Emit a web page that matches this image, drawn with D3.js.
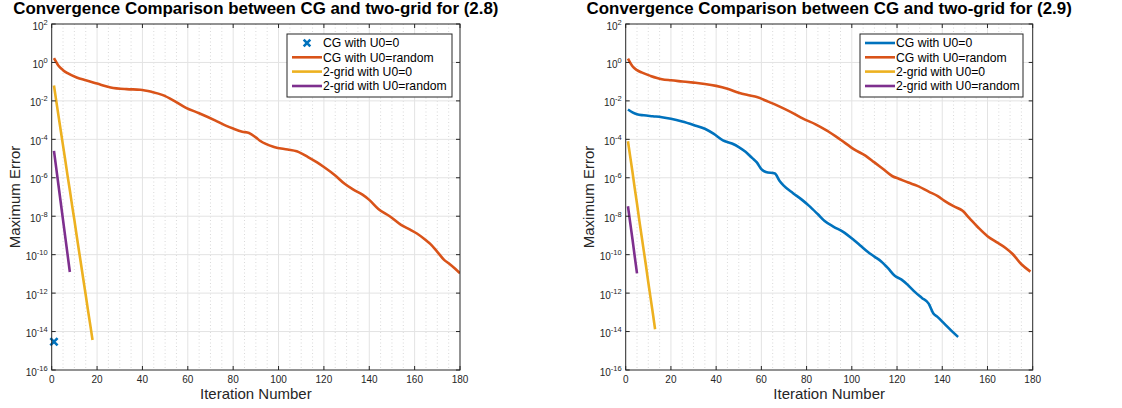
<!DOCTYPE html>
<html><head><meta charset="utf-8">
<script src="https://cdn.jsdelivr.net/npm/d3@7/dist/d3.min.js"></script>
<style>
body{margin:0;background:#fff;}
svg{display:block;font-family:"Liberation Sans",Arial,Helvetica,sans-serif;}
</style>
</head><body>
<svg id="chart" width="1122" height="408"></svg>
<script>
// ---------- tick labels / text ----------
const xTickValues = [0, 20, 40, 60, 80, 100, 120, 140, 160, 180];
const yTickExponents = [2, 0, -2, -4, -6, -8, -10, -12, -14, -16];
const legendLabels = ["CG with U0=0", "CG with U0=random", "2-grid with U0=0", "2-grid with U0=random"];
const panelTitles = ["Convergence Comparison between CG and two-grid for (2.8)",
                     "Convergence Comparison between CG and two-grid for (2.9)"];
const xLabel = "Iteration Number";
const yLabel = "Maximum Error";

// ---------- data (base-10 exponent of the maximum error) ----------
// Panel (2.8)
const cgZeroIter28 = [1];
const cgZeroExp28  = [-14.53];
const cgRandIter28 = [1,3,5,7,11,15,20,26,33,39,44,49,54,59,65,72,77,80,84,87,90,92,98,104,108,113,117,120,125,129,133,137,140,144,149,154,158,161,165,167,170,173,175,178,180];
const cgRandExp28  = [0.22,-0.17,-0.40,-0.56,-0.78,-0.93,-1.10,-1.30,-1.39,-1.42,-1.53,-1.70,-2.00,-2.35,-2.64,-3.01,-3.30,-3.44,-3.60,-3.67,-3.90,-4.09,-4.40,-4.53,-4.62,-4.92,-5.20,-5.44,-5.88,-6.30,-6.62,-6.88,-7.15,-7.62,-8.00,-8.45,-8.70,-8.90,-9.25,-9.45,-9.85,-10.27,-10.45,-10.75,-10.97];
const tgZeroIter28 = [1,2,3,4,5,6,7,8,9,10,11,12,13,14,15,16,17,18];
const tgZeroExp28  = [-1.2,-2.0,-2.78,-3.55,-4.33,-5.1,-5.9,-6.65,-7.45,-8.2,-9.0,-9.78,-10.55,-11.33,-12.1,-12.9,-13.65,-14.44];
const tgRandIter28 = [1,2,3,4,5,6,7,8];
const tgRandExp28  = [-4.6,-5.5,-6.4,-7.3,-8.2,-9.1,-10.0,-10.9];

// Panel (2.9)
const cgZeroIter29 = [1,3,5,8,12,16,20,25,30,35,39,43,47,50,53,56,58,60,62,66,68,70,74,78,81,85,88,92,96,101,104,107,110,113,116,119,122,125,128,131,134,136,138,141,144,147];
const cgZeroExp29  = [-2.45,-2.60,-2.70,-2.75,-2.80,-2.85,-2.93,-3.07,-3.25,-3.45,-3.72,-4.05,-4.22,-4.40,-4.65,-4.98,-5.20,-5.55,-5.70,-5.78,-6.15,-6.42,-6.80,-7.15,-7.45,-7.90,-8.25,-8.55,-8.80,-9.25,-9.55,-9.85,-10.10,-10.35,-10.70,-11.10,-11.30,-11.60,-11.95,-12.25,-12.55,-13.05,-13.25,-13.60,-13.95,-14.28];
const cgRandIter29 = [1,3,5,7,11,16,20,25,30,35,40,45,50,55,58,63,70,75,78,84,89,95,101,106,110,114,118,121,125,129,134,138,141,145,149,152,156,160,164,168,171,175,179];
const cgRandExp29  = [0.20,-0.20,-0.40,-0.52,-0.70,-0.87,-0.93,-0.99,-1.05,-1.12,-1.22,-1.37,-1.58,-1.72,-1.80,-2.04,-2.40,-2.70,-2.90,-3.22,-3.55,-4.02,-4.52,-4.85,-5.20,-5.56,-5.92,-6.06,-6.25,-6.42,-6.72,-6.95,-7.20,-7.48,-7.72,-8.10,-8.60,-9.04,-9.35,-9.65,-9.95,-10.50,-10.88];
const tgZeroIter29 = [1,2,3,4,5,6,7,8,9,10,11,12,13];
const tgZeroExp29  = [-4.1,-4.9,-5.7,-6.55,-7.35,-8.2,-9.0,-9.8,-10.6,-11.45,-12.25,-13.05,-13.88];
const tgRandIter29 = [1,2,3,4,5];
const tgRandExp29  = [-7.48,-8.35,-9.2,-10.1,-10.97];

// ---------- styling ----------
const colors = {blue:"#0072BD", orange:"#D95319", yellow:"#EDB120", purple:"#7E2F8E"};
const axisColor = "#262626";
const svg = d3.select("#chart");
const plotTop = 24, plotBottom = 370;

const panels = [
  {x0:51.7, x1:460, title:panelTitles[0], legendX:287, legendW:165,
   series:[
     {kind:"marker", iter:cgZeroIter28, exp:cgZeroExp28, color:colors.blue},
     {kind:"curve", iter:cgRandIter28, exp:cgRandExp28, color:colors.orange},
     {kind:"line", iter:tgZeroIter28, exp:tgZeroExp28, color:colors.yellow},
     {kind:"line", iter:tgRandIter28, exp:tgRandExp28, color:colors.purple}]},
  {x0:625.7, x1:1032.7, title:panelTitles[1], legendX:860, legendW:163,
   series:[
     {kind:"curve", iter:cgZeroIter29, exp:cgZeroExp29, color:colors.blue},
     {kind:"curve", iter:cgRandIter29, exp:cgRandExp29, color:colors.orange},
     {kind:"line", iter:tgZeroIter29, exp:tgZeroExp29, color:colors.yellow},
     {kind:"line", iter:tgRandIter29, exp:tgRandExp29, color:colors.purple}]}
];

function xMark(g, cx, cy, r, color){
  g.append("path")
    .attr("d", `M${cx-r},${cy-r}L${cx+r},${cy+r}M${cx-r},${cy+r}L${cx+r},${cy-r}`)
    .attr("stroke", color).attr("stroke-width", 2.6).attr("fill","none");
}

panels.forEach((p, pi) => {
  const x = d3.scaleLinear().domain([0, 180]).range([p.x0, p.x1]);
  const y = d3.scaleLog().domain([1e-16, 1e2]).range([plotBottom, plotTop]);
  const g = svg.append("g");

  // grid: minor (dotted, every 5) and major
  const minor = d3.range(5, 180, 5).filter(v => v % 20 !== 0);
  g.selectAll(null).data(minor).enter().append("line")
    .attr("x1", d => x(d)).attr("x2", d => x(d)).attr("y1", plotTop).attr("y2", plotBottom)
    .attr("stroke", "#cfcfcf").attr("stroke-width", 0.8).attr("stroke-dasharray", "1,2.5");
  g.selectAll(null).data(xTickValues.slice(1, -1)).enter().append("line")
    .attr("x1", d => x(d)).attr("x2", d => x(d)).attr("y1", plotTop).attr("y2", plotBottom)
    .attr("stroke", "#e3e3e3").attr("stroke-width", 1);
  g.selectAll(null).data(yTickExponents.slice(1, -1)).enter().append("line")
    .attr("y1", d => y(Math.pow(10, d))).attr("y2", d => y(Math.pow(10, d)))
    .attr("x1", p.x0).attr("x2", p.x1)
    .attr("stroke", "#e3e3e3").attr("stroke-width", 1);

  // data
  const clipId = "clip" + pi;
  svg.append("clipPath").attr("id", clipId).append("rect")
    .attr("x", p.x0).attr("y", plotTop).attr("width", p.x1 - p.x0).attr("height", plotBottom - plotTop);
  const dg = g.append("g").attr("clip-path", `url(#${clipId})`);
  const straight = d3.line().x(d => x(d[0])).y(d => y(Math.pow(10, d[1])));
  const smooth = d3.line().curve(d3.curveMonotoneX).x(d => x(d[0])).y(d => y(Math.pow(10, d[1])));
  p.series.forEach(s => {
    const pts = s.iter.map((it, i) => [it, s.exp[i]]);
    if (s.kind === "marker") {
      pts.forEach(d => xMark(g, x(d[0]), y(Math.pow(10, d[1])), 3.6, s.color));
    } else {
      dg.append("path").attr("d", (s.kind === "curve" ? smooth : straight)(pts)).attr("fill", "none")
        .attr("stroke", s.color).attr("stroke-width", 2.6).attr("stroke-linejoin", "round");
    }
  });

  // axes box
  g.append("rect").attr("x", p.x0).attr("y", plotTop).attr("width", p.x1 - p.x0).attr("height", plotBottom - plotTop)
    .attr("fill", "none").attr("stroke", axisColor).attr("stroke-width", 1);

  // x ticks
  xTickValues.forEach(v => {
    g.append("line").attr("x1", x(v)).attr("x2", x(v)).attr("y1", plotBottom).attr("y2", plotBottom - 4)
      .attr("stroke", axisColor);
    g.append("line").attr("x1", x(v)).attr("x2", x(v)).attr("y1", plotTop).attr("y2", plotTop + 4)
      .attr("stroke", axisColor);
    g.append("text").attr("x", x(v)).attr("y", plotBottom + 13).attr("text-anchor", "middle")
      .attr("font-size", 10).attr("fill", axisColor).text(v);
  });
  // y ticks
  yTickExponents.forEach(e => {
    const yy = y(Math.pow(10, e));
    g.append("line").attr("x1", p.x0).attr("x2", p.x0 + 4).attr("y1", yy).attr("y2", yy).attr("stroke", axisColor);
    g.append("line").attr("x1", p.x1).attr("x2", p.x1 - 4).attr("y1", yy).attr("y2", yy).attr("stroke", axisColor);
    const t = g.append("text").attr("x", p.x0 - 4).attr("y", yy + 5.5).attr("text-anchor", "end")
      .attr("font-size", 10).attr("fill", axisColor);
    t.append("tspan").text("10");
    t.append("tspan").attr("dy", -5).attr("font-size", 7.5).text(e);
  });

  // labels
  const cx = (p.x0 + p.x1) / 2;
  g.append("text").attr("x", cx).attr("y", 14).attr("text-anchor", "middle")
    .attr("font-size", 16.9).attr("font-weight", "bold").attr("fill", "#000").text(p.title);
  g.append("text").attr("x", cx).attr("y", 399).attr("text-anchor", "middle")
    .attr("font-size", 15).attr("fill", axisColor).text(xLabel);
  g.append("text").attr("transform", `translate(${p.x0 - 31.5},${(plotTop + plotBottom) / 2}) rotate(-90)`)
    .attr("text-anchor", "middle").attr("font-size", 15).attr("fill", axisColor).text(yLabel);

  // legend
  const lg = g.append("g");
  lg.append("rect").attr("x", p.legendX).attr("y", 34).attr("width", p.legendW).attr("height", 63)
    .attr("fill", "#fff").attr("stroke", axisColor).attr("stroke-width", 1);
  const rowY = [43, 57.3, 71.6, 86];
  p.series.forEach((s, i) => {
    const sx = p.legendX + 5;
    if (s.kind === "marker") {
      xMark(lg, sx + 15, rowY[i], 3.3, s.color);
    } else {
      lg.append("line").attr("x1", sx).attr("x2", sx + 30).attr("y1", rowY[i]).attr("y2", rowY[i])
        .attr("stroke", s.color).attr("stroke-width", 2.6);
    }
    lg.append("text").attr("x", sx + 31).attr("y", rowY[i] + 4.3).attr("font-size", 12.2)
      .attr("fill", "#000").text(legendLabels[i]);
  });
});
</script>
</body></html>
